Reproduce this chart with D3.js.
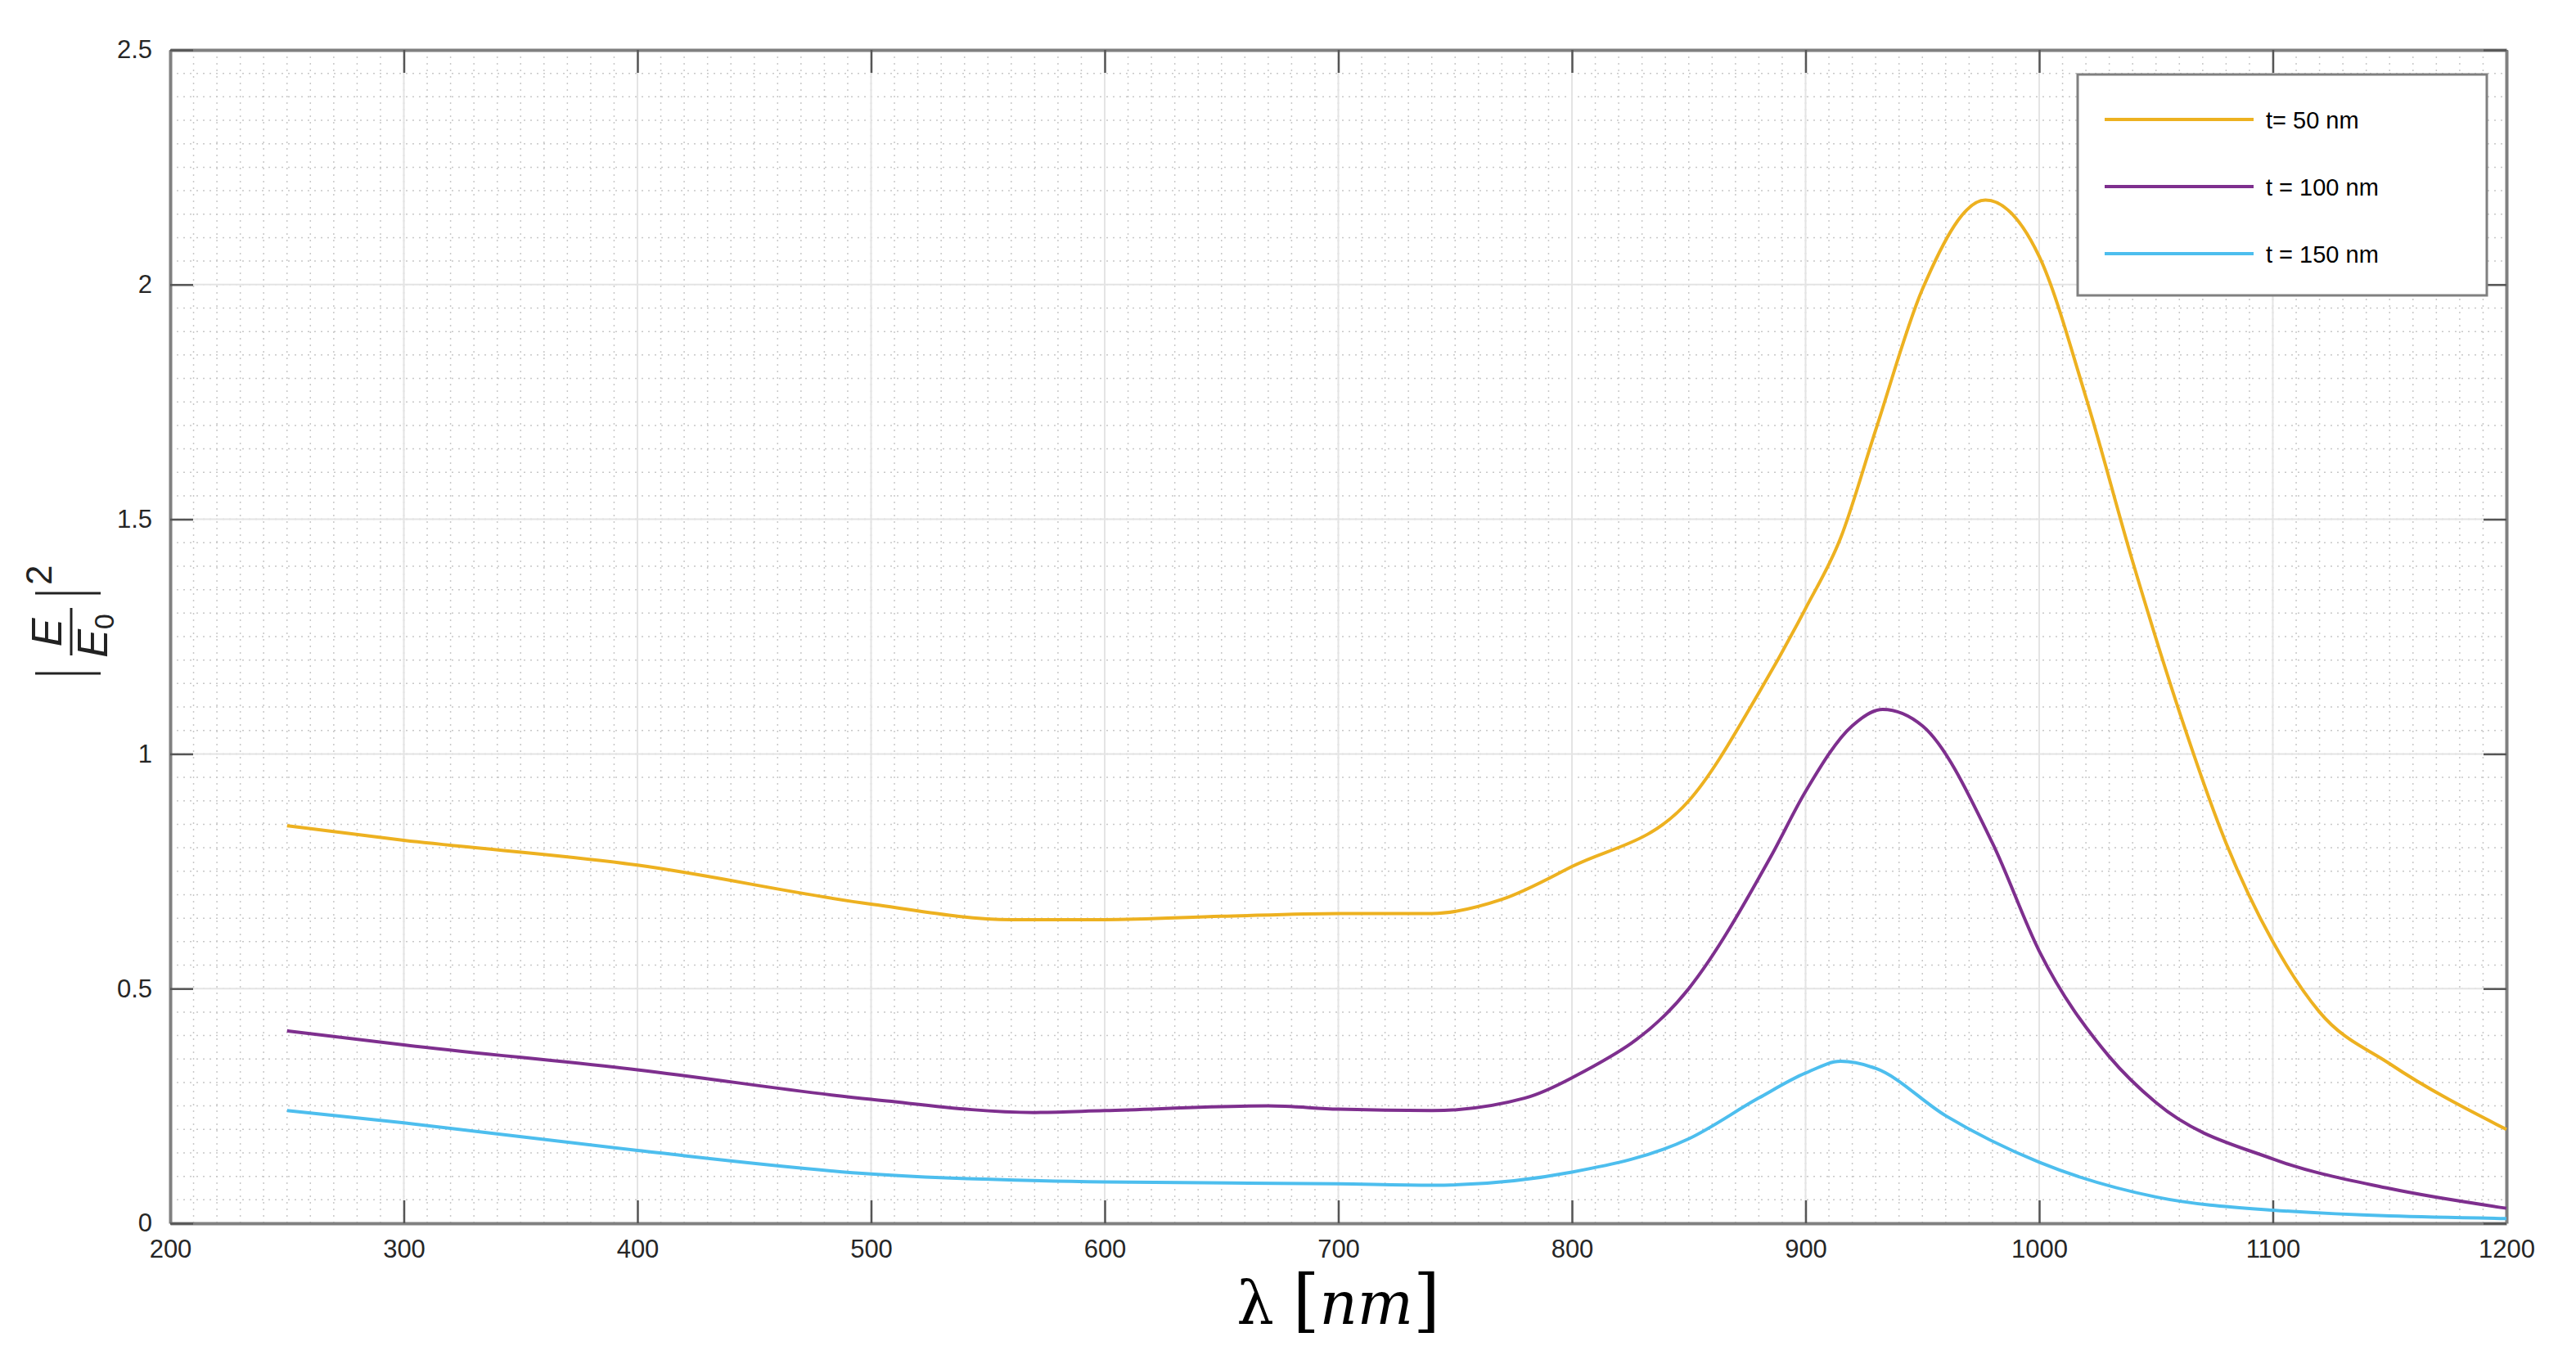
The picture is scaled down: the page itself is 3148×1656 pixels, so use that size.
<!DOCTYPE html>
<html>
<head>
<meta charset="utf-8">
<script src="https://cdn.jsdelivr.net/npm/d3@7"></script>
<style>
  body { margin: 0; background: #fff; }
  svg text { font-family: "Liberation Sans", Arial, sans-serif; }
</style>
</head>
<body>
<svg id="chart" width="3148" height="1656"></svg>
<script>
(function() {
  'use strict';

  var lambda50 = [250, 300, 400, 500, 560, 600, 650, 700, 740, 770, 800, 850, 880, 900, 915, 930, 950, 977, 1000, 1020, 1040, 1060, 1080, 1100, 1120, 1150, 1200];
  var t50 = [0.847, 0.816, 0.763, 0.68, 0.647, 0.647, 0.654, 0.66, 0.66, 0.69, 0.76, 0.9, 1.13, 1.31, 1.46, 1.69, 1.99, 2.18, 2.06, 1.76, 1.41, 1.09, 0.81, 0.60, 0.45, 0.34, 0.20];

  var lambda100 = [250, 300, 400, 500, 570, 600, 670, 700, 740, 780, 800, 850, 885, 900, 920, 933, 950, 980, 1000, 1030, 1050, 1100, 1150, 1200];
  var t100 = [0.41, 0.38, 0.327, 0.264, 0.236, 0.24, 0.25, 0.243, 0.24, 0.267, 0.31, 0.5, 0.78, 0.92, 1.06, 1.095, 1.06, 0.81, 0.58, 0.355, 0.257, 0.137, 0.074, 0.032];

  var lambda150 = [250, 300, 400, 500, 600, 700, 740, 800, 850, 880, 900, 915, 930, 960, 1000, 1050, 1100, 1200];
  var t150 = [0.24, 0.214, 0.155, 0.105, 0.088, 0.084, 0.081, 0.109, 0.18, 0.267, 0.32, 0.345, 0.33, 0.229, 0.13, 0.056, 0.028, 0.01];

  var seriesNames = ['t= 50 nm', 't = 100 nm', 't = 150 nm'];
  var seriesColors = ['#EDB120', '#7E2F8E', '#4DBEEE'];
  var xTicks = [200, 300, 400, 500, 600, 700, 800, 900, 1000, 1100, 1200];
  var yTicks = [0, 0.5, 1, 1.5, 2, 2.5];

  var series = [
    { name: seriesNames[0], color: seriesColors[0], pts: d3.zip(lambda50, t50) },
    { name: seriesNames[1], color: seriesColors[1], pts: d3.zip(lambda100, t100) },
    { name: seriesNames[2], color: seriesColors[2], pts: d3.zip(lambda150, t150) }
  ];

  var svg = d3.select('#chart');
  var margin = { top: 61, right: 85, bottom: 161, left: 208 };
  var width = 3148 - margin.left - margin.right;
  var height = 1656 - margin.top - margin.bottom;
  var g = svg.append('g').attr('transform', 'translate(' + margin.left + ',' + margin.top + ')');

  var x = d3.scaleLinear().domain([200, 1200]).range([0, width]);
  var y = d3.scaleLinear().domain([0, 2.5]).range([height, 0]);

  // minor grid (dotted)
  g.append('g').selectAll('line').data(d3.range(200, 1201, 10)).enter().append('line')
    .attr('x1', function(d) { return x(d); }).attr('x2', function(d) { return x(d); })
    .attr('y1', 0).attr('y2', height)
    .attr('stroke', '#c8c8c8').attr('stroke-width', 1.5).attr('stroke-dasharray', '2,6');
  g.append('g').selectAll('line').data(d3.range(0, 51).map(function(i) { return i * 0.05; })).enter().append('line')
    .attr('y1', function(d) { return y(d); }).attr('y2', function(d) { return y(d); })
    .attr('x1', 0).attr('x2', width)
    .attr('stroke', '#c8c8c8').attr('stroke-width', 1.5).attr('stroke-dasharray', '2,6');

  // major grid
  g.append('g').selectAll('line').data(xTicks).enter().append('line')
    .attr('x1', function(d) { return x(d); }).attr('x2', function(d) { return x(d); })
    .attr('y1', 0).attr('y2', height).attr('stroke', '#e4e4e4').attr('stroke-width', 2);
  g.append('g').selectAll('line').data(yTicks).enter().append('line')
    .attr('y1', function(d) { return y(d); }).attr('y2', function(d) { return y(d); })
    .attr('x1', 0).attr('x2', width).attr('stroke', '#e4e4e4').attr('stroke-width', 2);

  // axes, ticks inward on all four sides
  function styleAxis(sel) {
    sel.select('.domain').attr('stroke', '#808080').attr('stroke-width', 4);
    sel.selectAll('.tick line').attr('stroke', '#555').attr('stroke-width', 2.5);
    sel.selectAll('text').attr('font-size', 31).attr('fill', '#262626');
  }
  g.append('g').attr('transform', 'translate(0,' + height + ')')
    .call(d3.axisBottom(x).tickValues(xTicks).tickSizeInner(-28).tickSizeOuter(0).tickPadding(20).tickFormat(d3.format('d')))
    .call(styleAxis);
  g.append('g')
    .call(d3.axisTop(x).tickValues(xTicks).tickSizeInner(-28).tickSizeOuter(0).tickFormat(''))
    .call(styleAxis);
  g.append('g')
    .call(d3.axisLeft(y).tickValues(yTicks).tickSizeInner(-28).tickSizeOuter(0).tickPadding(22).tickFormat(d3.format('')))
    .call(styleAxis);
  g.append('g').attr('transform', 'translate(' + width + ',0)')
    .call(d3.axisRight(y).tickValues(yTicks).tickSizeInner(-28).tickSizeOuter(0).tickFormat(''))
    .call(styleAxis);

  // curves
  var line = d3.line()
    .x(function(d) { return x(d[0]); })
    .y(function(d) { return y(d[1]); })
    .curve(d3.curveMonotoneX);
  g.append('g').selectAll('path').data(series).enter().append('path')
    .attr('d', function(d) { return line(d.pts); })
    .attr('fill', 'none')
    .attr('stroke', function(d) { return d.color; })
    .attr('stroke-width', 4)
    .attr('stroke-linejoin', 'round');

  // legend
  var lg = svg.append('g').attr('transform', 'translate(2539,91)');
  lg.append('rect').attr('width', 500).attr('height', 270)
    .attr('fill', '#fff').attr('stroke', '#808080').attr('stroke-width', 3);
  series.forEach(function(s, i) {
    var ly = 55 + i * 82;
    lg.append('line').attr('x1', 33).attr('x2', 215).attr('y1', ly).attr('y2', ly)
      .attr('stroke', s.color).attr('stroke-width', 4);
    lg.append('text').attr('x', 230).attr('y', ly + 11).attr('font-size', 29)
      .attr('fill', '#000').text(s.name);
  });

  // x label
  var xl = svg.append('text').attr('x', margin.left + width / 2).attr('y', 1618)
    .attr('text-anchor', 'middle').attr('font-size', 72)
    .style('font-family', '"DejaVu Serif", "Liberation Serif", serif');
  xl.append('tspan').text('λ ');
  xl.append('tspan').attr('font-size', 84).text('[');
  xl.append('tspan').attr('font-style', 'italic').text('nm');
  xl.append('tspan').attr('font-size', 84).text(']');

  // y label: |E / E0|^2, rotated
  var yl = svg.append('g').attr('transform', 'translate(85,765) rotate(-90)')
    .style('font-family', '"Liberation Serif", "DejaVu Serif", serif');
  yl.append('line').attr('x1', -58).attr('x2', -58).attr('y1', -42).attr('y2', 38).attr('stroke', '#222').attr('stroke-width', 3);
  yl.append('text').attr('x', -8).attr('y', -10).attr('text-anchor', 'middle')
    .attr('font-size', 52).attr('font-style', 'italic').attr('fill', '#222').text('E');
  yl.append('line').attr('x1', -36).attr('x2', 22).attr('y1', 2).attr('y2', 2).attr('stroke', '#222').attr('stroke-width', 3);
  var den = yl.append('text').attr('x', -12).attr('y', 46).attr('text-anchor', 'middle')
    .attr('font-size', 52).attr('font-style', 'italic').attr('fill', '#222');
  den.append('tspan').text('E');
  den.append('tspan').attr('font-size', 34).attr('font-style', 'normal').attr('dy', 8).text('0');
  yl.append('line').attr('x1', 40).attr('x2', 40).attr('y1', -42).attr('y2', 38).attr('stroke', '#222').attr('stroke-width', 3);
  yl.append('text').attr('x', 50).attr('y', -22).attr('font-size', 44).attr('fill', '#222').text('2');
}());
</script>
</body>
</html>
